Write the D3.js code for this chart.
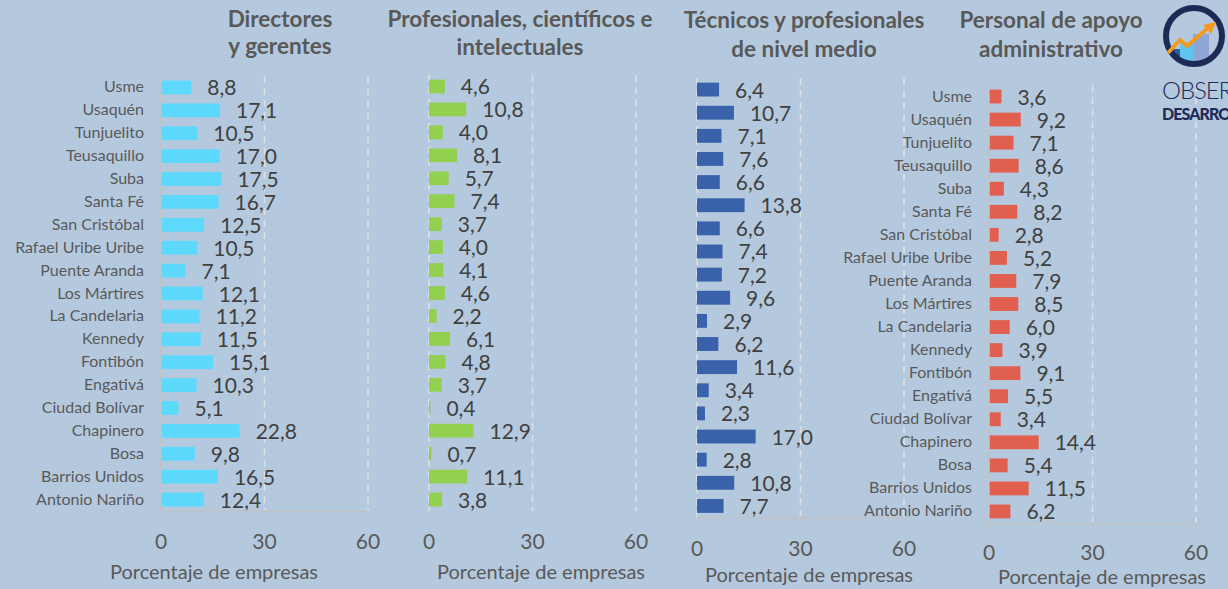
<!DOCTYPE html>
<html>
<head>
<meta charset="utf-8">
<script src="https://cdn.jsdelivr.net/npm/d3@7"></script>
<style>
  html, body { margin: 0; padding: 0; background: #b5c9de; }
  svg { display: block; font-family: Lato, "Open Sans", sans-serif; }
</style>
</head>
<body>
<svg id="chart" width="1228" height="589"></svg>
<script>
// Localidades de Bogotá, en el orden en que se listan de arriba hacia abajo
const localidades = [
  "Usme", "Usaquén", "Tunjuelito", "Teusaquillo", "Suba", "Santa Fé",
  "San Cristóbal", "Rafael Uribe Uribe", "Puente Aranda", "Los Mártires",
  "La Candelaria", "Kennedy", "Fontibón", "Engativá", "Ciudad Bolívar",
  "Chapinero", "Bosa", "Barrios Unidos", "Antonio Nariño"
];

// Porcentaje de empresas que demandan cada grupo ocupacional
const directores    = [8.8, 17.1, 10.5, 17.0, 17.5, 16.7, 12.5, 10.5, 7.1, 12.1, 11.2, 11.5, 15.1, 10.3, 5.1, 22.8, 9.8, 16.5, 12.4];
const profesionales = [4.6, 10.8, 4.0, 8.1, 5.7, 7.4, 3.7, 4.0, 4.1, 4.6, 2.2, 6.1, 4.8, 3.7, 0.4, 12.9, 0.7, 11.1, 3.8];
const tecnicos      = [6.4, 10.7, 7.1, 7.6, 6.6, 13.8, 6.6, 7.4, 7.2, 9.6, 2.9, 6.2, 11.6, 3.4, 2.3, 17.0, 2.8, 10.8, 7.7];
const apoyo         = [3.6, 9.2, 7.1, 8.6, 4.3, 8.2, 2.8, 5.2, 7.9, 8.5, 6.0, 3.9, 9.1, 5.5, 3.4, 14.4, 5.4, 11.5, 6.2];

const xTicks = [0, 30, 60];
const xDominio = [0, 60];
const titulos = [
  ["Directores", "y gerentes"],
  ["Profesionales, científicos e", "intelectuales"],
  ["Técnicos y profesionales", "de nivel medio"],
  ["Personal de apoyo", "administrativo"]
];
const ejeTitulo = "Porcentaje de empresas";

const fmt = v => d3.format(".1f")(v).replace(".", ",");

const svg = d3.select("#chart");

// Layout of each small multiple
const paneles = [
  { titulo: titulos[0], valores: directores, color: "#5cd9fd",
    x: [161, 368], y: [76, 511], etiquetas: true, ejeY: true, ejeX: true,
    tx: 280, ty: [27, 54], tickY: 542, ejeTituloX: 214, ejeTituloY: 579 },
  { titulo: titulos[1], valores: profesionales, color: "#92d050",
    x: [429, 636], y: [75, 511], etiquetas: false, ejeY: false, ejeX: false,
    tx: 520, ty: [27, 55], tickY: 542, ejeTituloX: 541, ejeTituloY: 579 },
  { titulo: titulos[2], valores: tecnicos, color: "#3a62aa",
    x: [697, 904], y: [78, 517.5], etiquetas: false, ejeY: false, ejeX: true,
    tx: 804, ty: [28, 56.5], tickY: 549, ejeTituloX: 809, ejeTituloY: 582 },
  { titulo: titulos[3], valores: apoyo, color: "#e15f4f",
    x: [989, 1196], y: [85, 523], etiquetas: true, ejeY: true, ejeX: true,
    tx: 1051, ty: [28, 56.5], tickY: 553, ejeTituloX: 1102, ejeTituloY: 584 }
];

const ejeColor = "#bfc3c8";
const gridColor = "#dde1e6";

paneles.forEach(p => {
  const g = svg.append("g");
  const x = d3.scaleLinear().domain(xDominio).range(p.x);
  const y = d3.scaleBand().domain(localidades).range(p.y)
    .paddingInner(0.4).paddingOuter(0.2);

  // dashed vertical gridlines
  g.selectAll("line.grid").data(xTicks.filter(t => !(p.ejeY && t === 0)))
    .join("line")
    .attr("x1", d => x(d)).attr("x2", d => x(d))
    .attr("y1", p.y[0]).attr("y2", p.y[1])
    .attr("stroke", gridColor).attr("stroke-width", 1.5)
    .attr("stroke-dasharray", "7,5");

  // bars
  g.selectAll("rect.bar").data(p.valores)
    .join("rect")
    .attr("x", x(0))
    .attr("y", (d, i) => y(localidades[i]))
    .attr("width", d => x(d) - x(0))
    .attr("height", y.bandwidth())
    .attr("fill", p.color);

  // value labels
  g.selectAll("text.valor").data(p.valores)
    .join("text")
    .attr("x", d => x(d) + 16)
    .attr("y", (d, i) => y(localidades[i]) + y.bandwidth() / 2 + 8)
    .attr("font-size", 21)
    .attr("fill", "#404040")
    .text(d => fmt(d));

  // category axis
  if (p.ejeY) {
    const step = y.step();
    g.append("line")
      .attr("x1", x(0)).attr("x2", x(0))
      .attr("y1", p.y[0]).attr("y2", p.y[1])
      .attr("stroke", ejeColor).attr("stroke-width", 1.5);
    g.selectAll("line.ytick").data(d3.range(localidades.length + 1))
      .join("line")
      .attr("x1", x(0) - 6).attr("x2", x(0))
      .attr("y1", i => p.y[0] + i * step).attr("y2", i => p.y[0] + i * step)
      .attr("stroke", ejeColor).attr("stroke-width", 1.5);
  }
  if (p.etiquetas) {
    g.selectAll("text.cat").data(localidades)
      .join("text")
      .attr("x", x(0) - 17)
      .attr("y", d => y(d) + y.bandwidth() / 2 + 5)
      .attr("text-anchor", "end")
      .attr("font-size", 16)
      .attr("fill", "#595959")
      .text(d => d);
  }

  // value axis
  if (p.ejeX) {
    g.append("line")
      .attr("x1", p.x[0]).attr("x2", p.x[1])
      .attr("y1", p.y[1]).attr("y2", p.y[1])
      .attr("stroke", ejeColor).attr("stroke-width", 1.5);
    g.selectAll("line.xtick").data(xTicks)
      .join("line")
      .attr("x1", d => x(d)).attr("x2", d => x(d))
      .attr("y1", p.y[1]).attr("y2", p.y[1] + 7)
      .attr("stroke", ejeColor).attr("stroke-width", 1.5);
  }
  g.selectAll("text.xtl").data(xTicks)
    .join("text")
    .attr("x", d => x(d))
    .attr("y", p.tickY + 7)
    .attr("text-anchor", "middle")
    .attr("font-size", 21)
    .attr("fill", "#595959")
    .text(d => d);

  g.append("text")
    .attr("x", p.ejeTituloX)
    .attr("y", p.ejeTituloY)
    .attr("text-anchor", "middle")
    .attr("font-size", 20)
    .attr("fill", "#595959")
    .text(ejeTitulo);

  // panel title
  p.titulo.forEach((t, i) => {
    g.append("text")
      .attr("x", p.tx).attr("y", p.ty[i])
      .attr("text-anchor", "middle")
      .attr("font-size", 22.5)
      .attr("font-weight", 700)
      .attr("fill", "#595959")
      .text(t);
  });
});

// Observatorio logo
const logo = svg.append("g");
const cx = 1194, cy = 36, r = 28;
logo.append("clipPath").attr("id", "logoClip")
  .append("circle").attr("cx", cx).attr("cy", cy).attr("r", r - 2);
const barras = logo.append("g").attr("clip-path", "url(#logoClip)");
barras.append("rect").attr("x", 1170).attr("y", 49).attr("width", 10).attr("height", 22).attr("fill", "#2f5c9e");
barras.append("rect").attr("x", 1180).attr("y", 43).attr("width", 13).attr("height", 28).attr("fill", "#5fc5ee");
barras.append("rect").attr("x", 1193).attr("y", 34).attr("width", 16).attr("height", 37).attr("fill", "#8ea6d6");
logo.append("circle").attr("cx", cx).attr("cy", cy).attr("r", r)
  .attr("fill", "none").attr("stroke", "#1e2a56").attr("stroke-width", 6);
logo.append("polyline")
  .attr("points", "1168,53 1180,40 1187,46 1208,28")
  .attr("fill", "none").attr("stroke", "#f39a1e").attr("stroke-width", 3.8)
  .attr("stroke-linejoin", "miter");
logo.append("path")
  .attr("d", "M1216,22 L1203,25 L1211,34 Z")
  .attr("fill", "#f39a1e");
logo.append("text").attr("x", 1162).attr("y", 99)
  .attr("font-size", 24).attr("font-weight", 300).attr("fill", "#1e2a56")
  .attr("letter-spacing", -1.1)
  .text("OBSERVATORIO");
logo.append("text").attr("x", 1162).attr("y", 120)
  .attr("font-size", 16).attr("font-weight", 900).attr("fill", "#1e2a56")
  .attr("letter-spacing", -0.9)
  .text("DESARROLLO");
</script>
</body>
</html>
